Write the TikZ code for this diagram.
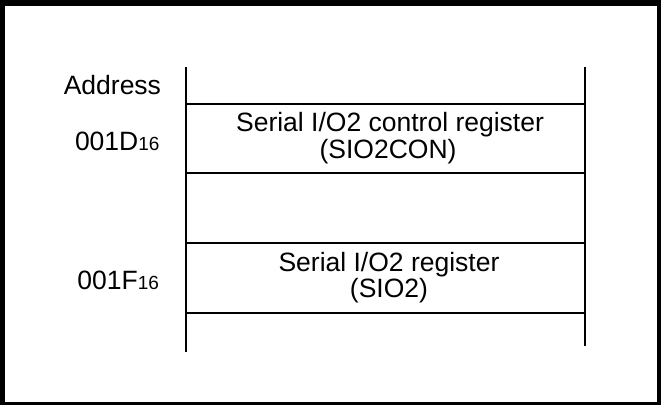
\documentclass[tikz,border=0pt]{standalone}
\usepackage{fontspec}
\setmainfont{Liberation Sans}
\begin{document}
\begin{tikzpicture}[x=1pt,y=-1pt,
  lbl/.style={inner sep=0pt,outer sep=0pt,font=\fontsize{26.5}{28}\selectfont},
  rule/.style={line width=2pt,black}]
\useasboundingbox (0,0) rectangle (661,405);
\fill[black] (0,0) rectangle (661,405);
\fill[white] (5,5.5) rectangle (656.7,401.7);
% map lines
\coordinate (lt) at (186,67);
\coordinate (lb) at (186,352);
\coordinate (rt) at (585,67);
\coordinate (rb) at (585,346);
\draw[rule] (lt) -- (lb);
\draw[rule] (rt) -- (rb);
\foreach \yy/\nm in {104/a,173/b,243/c,313/d}{
  \coordinate (\nm L) at (186,\yy);
  \coordinate (\nm R) at (585,\yy);
  \draw[rule] (\nm L) -- (\nm R);
}
% labels
\node[lbl,anchor=base east] (addr) at (161,94) {Address};
\node[lbl,anchor=base east] (a1d) at (159.5,150.7) {001D{\fontsize{19}{19}\selectfont 16}};
\node[lbl,anchor=base east] (a1f) at (159,289) {001F{\fontsize{19}{19}\selectfont 16}};
\node[lbl,anchor=base] (con1) at (390,131) {Serial I/O2 control register};
\node[lbl,anchor=base] (con2) at (388,158) {(SIO2CON)};
\node[lbl,anchor=base] (reg1) at (389,271) {Serial I/O2 register};
\node[lbl,anchor=base] (reg2) at (389,297.5) {(SIO2)};
\end{tikzpicture}
\end{document}
